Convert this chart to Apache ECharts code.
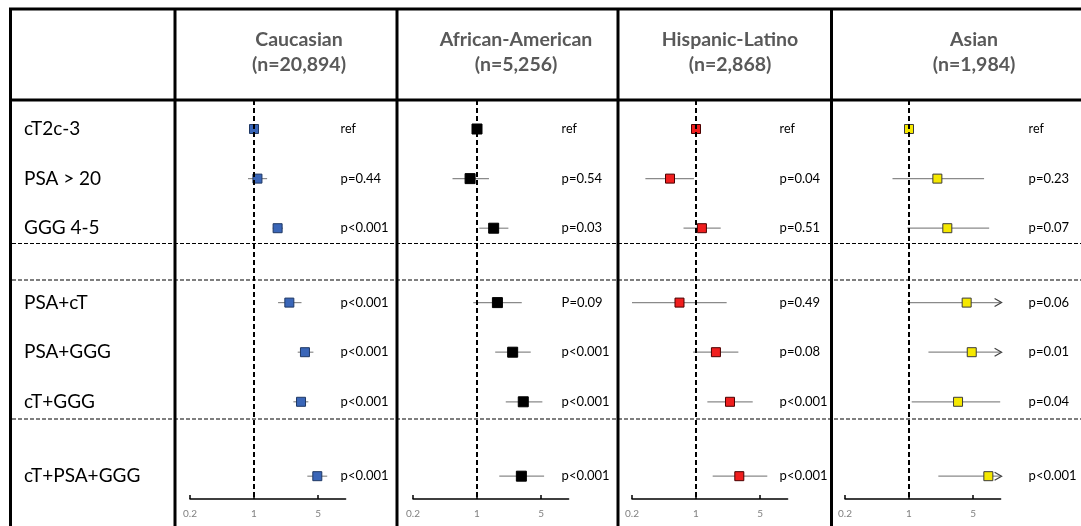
<!DOCTYPE html>
<html>
<head>
<meta charset="utf-8">
<script src="https://cdn.jsdelivr.net/npm/echarts@6/dist/echarts.min.js"></script>
<style>
  html, body { margin: 0; padding: 0; background: #fff; }
  #chart { width: 1081px; height: 526px; }
</style>
</head>
<body>
<div id="chart"></div>
<script>
// 行标签（从上到下）
const rowNames = ['cT2c-3', 'PSA > 20', 'GGG 4-5', 'PSA+cT', 'PSA+GGG', 'cT+GGG', 'cT+PSA+GGG'];

// 各人群
const groupNames = ['Caucasian', 'African-American', 'Hispanic-Latino', 'Asian'];
const groupN = ['(n=20,894)', '(n=5,256)', '(n=2,868)', '(n=1,984)'];

// 点估计 + 置信区间（ref 行没有区间）
const caucEst = [1, 1.09, 1.81, 2.43, 3.6, 3.26, 4.91];
const caucLo  = [null, 0.86, 1.6, 1.83, 3.0, 2.69, 3.82];
const caucHi  = [null, 1.39, 2.07, 3.3, 4.45, 3.92, 6.3];
const caucP   = ['ref', 'p=0.44', 'p<0.001', 'p<0.001', 'p<0.001', 'p<0.001', 'p<0.001'];

const afrEst = [1, 0.84, 1.52, 1.67, 2.45, 3.2, 3.05];
const afrLo  = [null, 0.54, 1.06, 0.91, 1.58, 2.06, 1.75];
const afrHi  = [null, 1.35, 2.2, 3.08, 3.86, 5.17, 5.4];
const afrP   = ['ref', 'p=0.54', 'p=0.03', 'P=0.09', 'p<0.001', 'p<0.001', 'p<0.001'];

const hispEst = [1, 0.52, 1.16, 0.66, 1.65, 2.35, 2.97];
const hispLo  = [null, 0.28, 0.73, 0.2, 0.93, 1.33, 1.52];
const hispHi  = [null, 0.95, 1.86, 2.16, 2.9, 4.16, 6.0];
const hispP   = ['ref', 'p=0.04', 'p=0.51', 'p=0.49', 'p=0.08', 'p<0.001', 'p<0.001'];

const asianEst = [1, 2.04, 2.62, 4.26, 4.84, 3.43, 7.35];
const asianLo  = [null, 0.66, 0.96, 0.96, 1.63, 1.07, 2.09];
const asianHi  = [null, 6.6, 7.5, 10, 10, 9.9, 10];
// 上限超出坐标轴 -> 画箭头
const asianArrow = [false, false, false, true, true, false, true];
const asianP   = ['ref', 'p=0.23', 'p=0.07', 'p=0.06', 'p=0.01', 'p=0.04', 'p<0.001'];

const xTicks = [0.2, 1, 5];

// ---------- 布局 ----------
const rowSlot = [0, 2, 4, 7, 9, 11, 14];   // 行在纵轴上的位置（分组之间留空）
const yMin = -1.17, yMax = 14.92;
const panelLeft = [190, 413, 632, 845];
const panelW = 155.6;
const pMargin = [-5, -7, -8, 28];
const colCenter = [294, 511, 725, 969];

const panels = [
  { est: caucEst, lo: caucLo, hi: caucHi, p: caucP, fill: '#3A66B8', stroke: '#1F3864', size: 9 },
  { est: afrEst, lo: afrLo, hi: afrHi, p: afrP, fill: '#000000', stroke: '#000000', size: 10 },
  { est: hispEst, lo: hispLo, hi: hispHi, p: hispP, fill: '#F01E1E', stroke: '#4a0000', size: 9 },
  { est: asianEst, lo: asianLo, hi: asianHi, p: asianP, fill: '#F5E800', stroke: '#3a3a3a', size: 9, arrow: asianArrow }
];

const chart = echarts.init(document.getElementById('chart'));

const grids = [], xAxes = [], yAxes = [], series = [], titles = [];

panels.forEach((pn, i) => {
  grids.push({ left: panelLeft[i], top: 100, width: panelW, height: 399, outerBoundsMode: 'none' });

  xAxes.push({
    type: 'log', logBase: 5, min: 0.2, max: 10, gridIndex: i, position: 'bottom',
    axisLine: { onZero: false, lineStyle: { color: '#000', width: 1.5 } },
    axisTick: { inside: true, length: 4, customValues: xTicks, lineStyle: { color: '#000', width: 1.5 } },
    axisLabel: { customValues: xTicks, fontSize: 10, color: '#808080', margin: 10, formatter: v => String(v) },
    splitLine: { show: false }
  });

  // 右侧 p 值
  yAxes.push({
    type: 'value', gridIndex: i, position: 'right', inverse: true, min: yMin, max: yMax,
    axisLine: { show: false }, axisTick: { show: false }, splitLine: { show: false },
    axisLabel: {
      customValues: rowSlot, margin: pMargin[i], align: 'left',
      fontSize: 13, color: '#000', fontFamily: 'Lato',
      formatter: v => {
        const t = pn.p[rowSlot.indexOf(v)];
        return t === 'ref' ? '{r|ref}' : t;
      },
      rich: { r: { fontSize: 12.5, fontFamily: 'Lato', color: '#000' } }
    }
  });

  titles.push({
    text: groupNames[i] + '\n' + groupN[i],
    left: colCenter[i], top: 22, textAlign: 'center',
    textStyle: { fontFamily: 'Lato', fontSize: 19.5, fontWeight: 'bold', color: '#595959', lineHeight: 25 }
  });

  series.push({
    type: 'custom',
    xAxisIndex: i, yAxisIndex: i,
    data: pn.est.map((v, k) => [v, pn.lo[k], pn.hi[k], rowSlot[k], pn.arrow && pn.arrow[k] ? 1 : 0]),
    encode: { x: 0, y: 3 },
    renderItem: (params, api) => {
      const y = api.value(3);
      const c = api.coord([api.value(0), y]);
      const lo = api.value(1), hi = api.value(2);
      const children = [];
      if (!isNaN(lo) && !isNaN(hi)) {
        const p1 = api.coord([lo, y]);
        const p2 = api.coord([hi, y]);
        children.push({
          type: 'line',
          shape: { x1: p1[0], y1: p1[1], x2: p2[0], y2: p2[1] },
          style: { stroke: '#8a8a8a', lineWidth: 1.2 }
        });
        if (api.value(4) === 1) {
          children.push({
            type: 'polyline',
            shape: { points: [[p2[0] - 6, p2[1] - 4], [p2[0] + 1, p2[1]], [p2[0] - 6, p2[1] + 4]] },
            style: { stroke: '#404040', lineWidth: 1.2, fill: null }
          });
        }
      }
      const s = pn.size;
      children.push({
        type: 'rect',
        shape: { x: c[0] - s / 2, y: c[1] - s / 2, width: s, height: s },
        style: { fill: pn.fill, stroke: pn.stroke, lineWidth: 1 }
      });
      return { type: 'group', children: children };
    },
    markLine: {
      silent: true, symbol: 'none', label: { show: false },
      lineStyle: { color: '#000', type: [5, 3], width: 2 },
      data: [{ xAxis: 1 }]
    }
  });
});

// 左侧行标签（挂在第一个面板上）
yAxes.push({
  type: 'value', gridIndex: 0, position: 'left', inverse: true, min: yMin, max: yMax,
  axisLine: { show: false }, axisTick: { show: false }, splitLine: { show: false },
  axisLabel: {
    customValues: rowSlot, margin: 166, align: 'left',
    fontSize: 19, color: '#000', fontFamily: 'Lato',
    formatter: v => rowNames[rowSlot.indexOf(v)]
  }
});

// 表格框线
const solid = { stroke: '#000', lineWidth: 3 };
const dash = { stroke: '#000', lineWidth: 1.2, lineDash: [4, 2] };
const frame = [
  { type: 'line', shape: { x1: 9, y1: 9, x2: 1081, y2: 9 }, style: solid },
  { type: 'line', shape: { x1: 9, y1: 100, x2: 1081, y2: 100 }, style: solid },
  { type: 'line', shape: { x1: 10.5, y1: 8, x2: 10.5, y2: 526 }, style: solid },
  { type: 'line', shape: { x1: 175, y1: 8, x2: 175, y2: 526 }, style: solid },
  { type: 'line', shape: { x1: 397, y1: 8, x2: 397, y2: 526 }, style: solid },
  { type: 'line', shape: { x1: 618, y1: 8, x2: 618, y2: 526 }, style: solid },
  { type: 'line', shape: { x1: 831.5, y1: 8, x2: 831.5, y2: 526 }, style: solid },
  { type: 'line', shape: { x1: 12, y1: 243.5, x2: 1081, y2: 243.5 }, style: dash },
  { type: 'line', shape: { x1: 12, y1: 280, x2: 1081, y2: 280 }, style: dash },
  { type: 'line', shape: { x1: 12, y1: 419, x2: 1081, y2: 419 }, style: dash }
];

chart.setOption({
  backgroundColor: '#fff',
  animation: false,
  textStyle: { fontFamily: 'Lato' },
  title: titles,
  grid: grids,
  xAxis: xAxes,
  yAxis: yAxes,
  series: series,
  graphic: frame.map(g => Object.assign({ silent: true, z: 10 }, g))
});

window.addEventListener('resize', () => chart.resize());
</script>
</body>
</html>
